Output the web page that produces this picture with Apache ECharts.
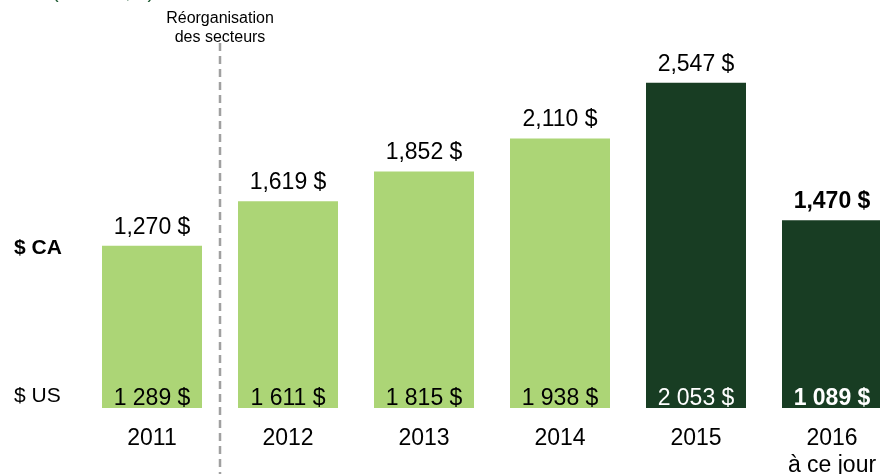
<!DOCTYPE html>
<html>
<head>
<meta charset="utf-8">
<script src="https://cdn.jsdelivr.net/npm/echarts@6/dist/echarts.min.js"></script>
<style>
  html, body { margin: 0; padding: 0; background: #fff; }
  #chart { width: 880px; height: 474px; }
</style>
</head>
<body>
<div id="chart"></div>
<script>
// données
const years = ["2011", "2012", "2013", "2014", "2015", "2016\nà ce jour"];
const cadValues = [1270, 1619, 1852, 2110, 2547, 1470];
const cadLabels = ["1,270 $", "1,619 $", "1,852 $", "2,110 $", "2,547 $", "1,470 $"];
const usdLabels = ["1 289 $", "1 611 $", "1 815 $", "1 938 $", "2 053 $", "1 089 $"];
const darkFrom = 4; // 2015 et après en vert foncé

const light = "#acd576";
const dark = "#183d23";
const font = "'Liberation Sans', Arial, sans-serif";

let myChart = echarts.init(document.getElementById("chart"));

let option = {
  animation: false,
  textStyle: { fontFamily: font },
  // boundaryGap false : les barres sont centrées sur les ticks (2016 coupée à droite)
  grid: { left: 152, right: 48, top: 25, bottom: 66, outerBoundsMode: "none", containLabel: false },
  xAxis: {
    type: "category",
    data: years,
    boundaryGap: false,
    axisLine: { show: false },
    axisTick: { show: false },
    axisLabel: { color: "#000", fontSize: 23, margin: 17, lineHeight: 27, fontFamily: font }
  },
  yAxis: {
    type: "value",
    min: 0,
    max: 3000,
    show: false,
    splitLine: { show: false }
  },
  series: [
    {
      type: "bar",
      barWidth: 100,
      data: cadValues.map((v, i) => ({
        value: v,
        itemStyle: { color: i >= darkFrom ? dark : light },
        label: { fontWeight: i === 5 ? "bold" : "normal" }
      })),
      label: {
        show: true,
        position: "top",
        distance: 7,
        color: "#000",
        fontSize: 23,
        fontFamily: font,
        formatter: p => cadLabels[p.dataIndex]
      }
    },
    {
      // étiquettes $ US en bas des barres
      type: "bar",
      barWidth: 100,
      barGap: "-100%",
      silent: true,
      z: 3,
      data: cadValues.map((v, i) => ({
        value: v,
        label: {
          color: i >= darkFrom ? "#fff" : "#000",
          fontWeight: i === 5 ? "bold" : "normal"
        }
      })),
      itemStyle: { color: "rgba(0,0,0,0)" },
      label: {
        show: true,
        position: "insideBottom",
        distance: 0,
        offset: [0, 2],
        fontSize: 23,
        fontFamily: font,
        formatter: p => usdLabels[p.dataIndex]
      }
    }
  ]
};

myChart.setOption(option);

// ligne de réorganisation entre 2011 et 2012
const x0 = myChart.convertToPixel({ xAxisIndex: 0 }, 0);
const x1 = myChart.convertToPixel({ xAxisIndex: 0 }, 1);
const xSep = (x0 + x1) / 2;

myChart.setOption({
  graphic: [
    {
      type: "text",
      left: 52, top: -18,
      style: { text: "(millions, $)", font: "20px " + font, fill: "#1e5a32" }
    },
    {
      type: "text",
      x: xSep, y: 9,
      style: {
        text: "Réorganisation\ndes secteurs",
        font: "16px " + font,
        fill: "#000",
        align: "center",
        lineHeight: 19
      }
    },
    {
      type: "line",
      shape: { x1: xSep, y1: 43, x2: xSep, y2: 474 },
      style: { stroke: "#a0a0a0", lineWidth: 2.5, lineDash: [8, 5] }
    },
    {
      type: "text",
      left: 14, top: 238,
      style: { text: "$ CA", font: "bold 21px " + font, fill: "#000" }
    },
    {
      type: "text",
      left: 14, top: 386,
      style: { text: "$ US", font: "21px " + font, fill: "#000" }
    }
  ]
});

window.addEventListener("resize", function () {
  myChart.resize();
});
</script>
</body>
</html>
